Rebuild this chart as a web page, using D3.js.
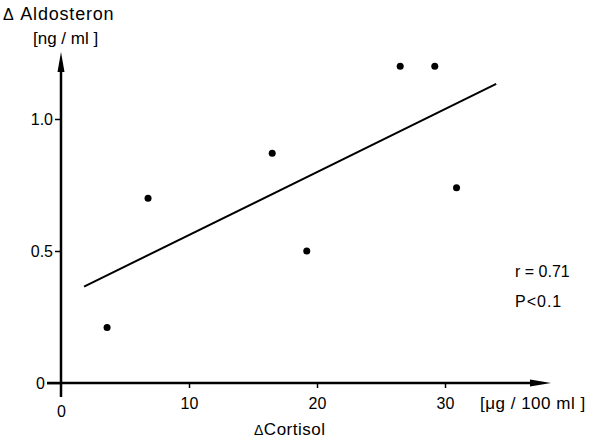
<!DOCTYPE html>
<html>
<head>
<meta charset="utf-8">
<style>
  body { margin: 0; background: #fff; }
  svg { display: block; }
  text { font-family: "Liberation Sans", Arial, sans-serif; fill: #000; }
  .num { font-family: "Liberation Sans", Arial, sans-serif; font-size: 16px; }
</style>
</head>
<body>
<svg width="590" height="442"></svg>
<script src="https://d3js.org/d3.v7.min.js"></script>
<script>
// delta cortisol [ug/100ml] vs delta aldosteron [ng/ml]
var cortisol   = [3.6, 6.8, 16.5, 19.2, 26.5, 29.2, 30.9];
var aldosteron = [0.21, 0.70, 0.87, 0.50, 1.20, 1.20, 0.74];
// regression line end points
var fitX = [1.8, 34.0];
var fitY = [0.365, 1.133];
var xTicks = [0, 10, 20, 30];
var yTicks = [0, 0.5, 1.0];
var yTickLabels = ["0", "0.5", "1.0"];

var svg = d3.select("svg");

var x = d3.scaleLinear().domain([0, 30]).range([61, 445]);
var y = d3.scaleLinear().domain([0, 1]).range([383, 119]);

// axes lines
svg.append("line")
  .attr("x1", 47).attr("x2", 535)
  .attr("y1", y(0)).attr("y2", y(0))
  .attr("stroke", "#000").attr("stroke-width", 2.5);
svg.append("line")
  .attr("x1", x(0)).attr("x2", x(0))
  .attr("y1", 397).attr("y2", 68)
  .attr("stroke", "#000").attr("stroke-width", 2.5);

// arrow heads
svg.append("path")
  .attr("d", "M530," + (y(0) - 3.5) + "L551," + y(0) + "L530," + (y(0) + 3.5) + "Z")
  .attr("fill", "#000");
svg.append("path")
  .attr("d", "M" + (x(0) - 3.5) + ",72L" + x(0) + ",52L" + (x(0) + 3.5) + ",72Z")
  .attr("fill", "#000");

// y ticks
var yAxis = svg.append("g")
  .attr("transform", "translate(" + x(0) + ",0)")
  .call(d3.axisLeft(y).tickValues(yTicks).tickSize(6).tickSizeOuter(0)
    .tickFormat(function(d, i) { return yTickLabels[i]; }));
yAxis.select(".domain").remove();
yAxis.selectAll(".tick line").attr("stroke-width", 1.5)
  .attr("x2", function(d) { return d === 0 ? -14 : -6; });
yAxis.selectAll(".tick text")
  .attr("class", "num")
  .attr("font-family", null).attr("font-size", null)
  .attr("x", function(d) { return d === 0 ? -16 : -8; })
  .attr("dy", "0.36em");

// x ticks
var xAxis = svg.append("g")
  .attr("transform", "translate(0," + y(0) + ")")
  .call(d3.axisBottom(x).tickValues(xTicks).tickSize(5).tickSizeOuter(0));
xAxis.select(".domain").remove();
xAxis.selectAll(".tick line").attr("stroke-width", 1.5)
  .attr("display", function(d) { return d === 0 ? "none" : null; });
xAxis.selectAll(".tick text")
  .attr("class", "num")
  .attr("font-family", null).attr("font-size", null)
  .attr("y", function(d) { return d === 0 ? 23 : 15; })
  .attr("dy", "0.71em");

// axis titles
var yt = svg.append("text").attr("x", 3).attr("y", 20).attr("font-size", 18)
  .attr("letter-spacing", 0.8);
yt.append("tspan").attr("font-size", 16).text("\u0394");
yt.append("tspan").text(" Aldosteron");
svg.append("text").attr("x", 33).attr("y", 44).attr("font-size", 17)
  .text("[ng / ml ]");
svg.append("text").attr("x", 480).attr("y", 409).attr("font-size", 17)
  .attr("letter-spacing", 0.5)
  .text("[\u03bcg / 100 ml ]");
var xt = svg.append("text").attr("x", 254).attr("y", 435).attr("font-size", 17)
  .attr("letter-spacing", 0.5);
xt.append("tspan").attr("font-size", 14).text("\u0394");
xt.append("tspan").text("Cortisol");

// stats
svg.append("text").attr("x", 515).attr("y", 277).attr("font-size", 16)
  .text("r = 0.71");
svg.append("text").attr("x", 515).attr("y", 307).attr("font-size", 16)
  .attr("letter-spacing", 1)
  .text("P<0.1");

// regression line
svg.append("line")
  .attr("x1", x(fitX[0])).attr("y1", y(fitY[0]))
  .attr("x2", x(fitX[1])).attr("y2", y(fitY[1]))
  .attr("stroke", "#000").attr("stroke-width", 2);

// points
svg.selectAll("circle.pt")
  .data(cortisol)
  .enter().append("circle")
  .attr("class", "pt")
  .attr("cx", function(d) { return x(d); })
  .attr("cy", function(d, i) { return y(aldosteron[i]); })
  .attr("r", 3.5)
  .attr("fill", "#000");
</script>
</body>
</html>
